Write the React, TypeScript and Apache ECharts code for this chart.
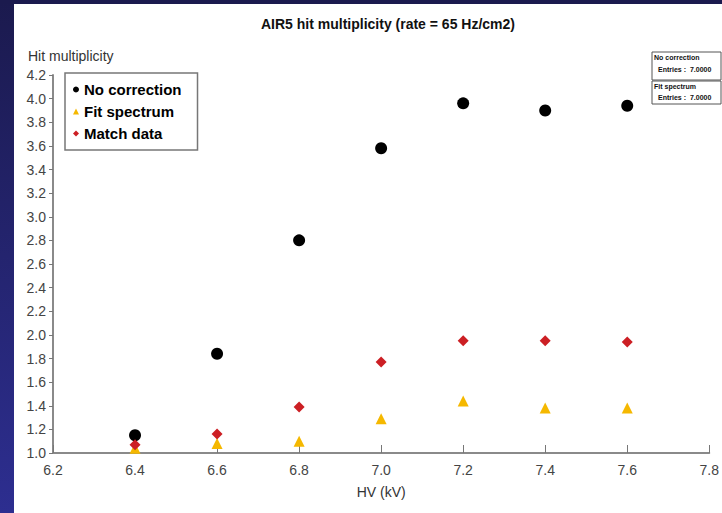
import React, { useEffect, useRef } from "react";
import * as echarts from "echarts";

const hv = [6.4, 6.6, 6.8, 7.0, 7.2, 7.4, 7.6];
const noCorrection = [1.15, 1.84, 2.8, 3.58, 3.96, 3.9, 3.94];
const fitSpectrum = [1.04, 1.08, 1.1, 1.29, 1.44, 1.38, 1.38];
const matchData = [1.07, 1.16, 1.39, 1.77, 1.95, 1.95, 1.94];
const seriesNames = ["No correction", "Fit spectrum", "Match data"];

const FONT = "'Liberation Sans', Arial, sans-serif";

export default function App() {
  const ref = useRef<HTMLDivElement>(null);
  useEffect(() => {
    if (!ref.current) return;
    const chart = echarts.init(ref.current, undefined, { renderer: "svg" });
    const pair = (ys: number[]) => hv.map((x, i) => [x, ys[i]]);
    chart.setOption({
      animation: false,
      backgroundColor: "#ffffff",
      title: {
        text: "AIR5 hit multiplicity (rate = 65 Hz/cm2)",
        left: 383,
        textAlign: "center",
        top: 12,
        textStyle: { fontFamily: FONT, fontSize: 14, fontWeight: "bold", color: "#111" },
      },
      grid: { left: 53, right: 9, top: 75, bottom: 60, containLabel: false },
      legend: {
        orient: "vertical",
        left: 65,
        top: 73,
        padding: [9, 16, 9, 8],
        itemGap: 7,
        itemWidth: 6,
        itemHeight: 6,
        borderColor: "#777",
        borderWidth: 1.5,
        data: seriesNames,
        textStyle: { fontFamily: FONT, fontSize: 15, fontWeight: "bold", color: "#000" },
      },
      xAxis: {
        type: "value",
        min: 6.2,
        max: 7.8,
        interval: 0.2,
        name: "HV (kV)",
        nameLocation: "middle",
        nameGap: 32,
        nameTextStyle: { fontFamily: FONT, fontSize: 14, color: "#333" },
        axisLine: { show: true, lineStyle: { color: "#8a8a8a", width: 2 } },
        axisTick: { show: true, inside: true, length: 8, lineStyle: { color: "#777", width: 1 } },
        axisLabel: {
          fontFamily: FONT,
          fontSize: 14,
          color: "#444",
          margin: 10,
          formatter: (v: number) => v.toFixed(1),
        },
        splitLine: { show: false },
      },
      yAxis: {
        type: "value",
        min: 1.0,
        max: 4.2,
        interval: 0.2,
        axisLine: { show: true, lineStyle: { color: "#8a8a8a", width: 2 } },
        axisTick: { show: true, length: 4, lineStyle: { color: "#777", width: 1 } },
        axisLabel: {
          fontFamily: FONT,
          fontSize: 14,
          color: "#444",
          margin: 7,
          formatter: (v: number) => v.toFixed(1),
        },
        splitLine: { show: false },
      },
      graphic: [
        {
          type: "rect",
          silent: true,
          shape: { x: 0, y: 0, width: 14, height: 513 },
          style: {
            fill: new echarts.graphic.LinearGradient(0, 0, 0, 1, [
              { offset: 0, color: "#1b1a4e" },
              { offset: 1, color: "#2d2e90" },
            ]),
          },
        },
        {
          type: "rect",
          silent: true,
          shape: { x: 0, y: 0, width: 722, height: 4 },
          style: { fill: "#1b1a4e" },
        },
        {
          type: "text",
          left: 28,
          top: 49,
          style: { text: "Hit multiplicity", font: `14px ${FONT}`, fill: "#333" },
        },
        {
          type: "rect",
          shape: { x: 652, y: 52, width: 69, height: 28 },
          style: { fill: "#fff", stroke: "#555", lineWidth: 1 },
        },
        {
          type: "text",
          x: 654,
          y: 54,
          style: { text: "No correction", font: `bold 7px ${FONT}`, fill: "#111" },
        },
        {
          type: "text",
          x: 658,
          y: 66,
          style: { text: "Entries :  7.0000", font: `bold 7px ${FONT}`, fill: "#111" },
        },
        {
          type: "rect",
          shape: { x: 652, y: 81, width: 69, height: 23 },
          style: { fill: "#fff", stroke: "#555", lineWidth: 1 },
        },
        {
          type: "text",
          x: 654,
          y: 83,
          style: { text: "Fit spectrum", font: `bold 7px ${FONT}`, fill: "#111" },
        },
        {
          type: "text",
          x: 658,
          y: 94,
          style: { text: "Entries :  7.0000", font: `bold 7px ${FONT}`, fill: "#111" },
        },
      ],
      series: [
        {
          name: seriesNames[0],
          type: "scatter",
          symbol: "circle",
          symbolSize: 12,
          itemStyle: { color: "#000", opacity: 1 },
          data: pair(noCorrection),
          z: 3,
        },
        {
          name: seriesNames[1],
          type: "scatter",
          symbol: "triangle",
          symbolSize: 11,
          itemStyle: { color: "#f5b800", opacity: 1 },
          data: pair(fitSpectrum),
          z: 4,
        },
        {
          name: seriesNames[2],
          type: "scatter",
          symbol: "diamond",
          symbolSize: 11,
          itemStyle: { color: "#cc1f24", opacity: 1 },
          data: pair(matchData),
          z: 5,
        },
      ],
    });
    return () => chart.dispose();
  }, []);
  return (
    <div
      ref={ref}
      style={{ width: 722, height: 513, position: "absolute", left: 0, top: 0 }}
    />
  );
}
